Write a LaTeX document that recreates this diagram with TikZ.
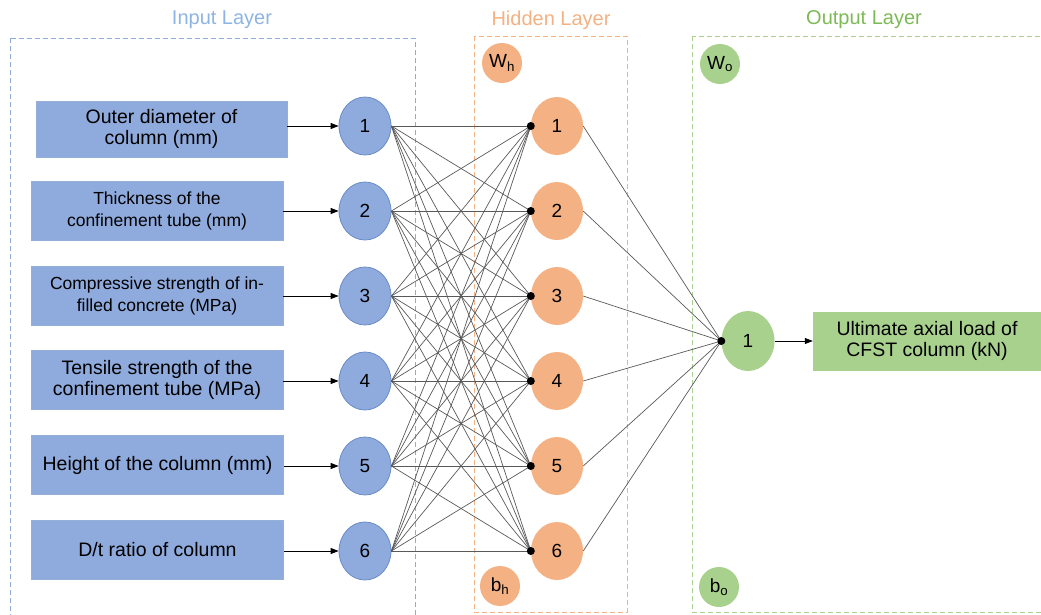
\documentclass[tikz,border=0pt]{standalone}
\usepackage{fontspec}
\setmainfont{Liberation Sans}
\usetikzlibrary{positioning, arrows.meta, shapes.geometric, calc}
\definecolor{annblue}{RGB}{143,170,220}
\definecolor{annblueline}{RGB}{105,140,200}
\definecolor{annbluetitle}{RGB}{142,180,227}
\definecolor{annorange}{RGB}{244,177,131}
\definecolor{anngreen}{RGB}{169,209,142}
\definecolor{anngreentitle}{RGB}{125,185,85}
\tikzset{
    inbox/.style={rectangle, draw=annblueline!70, fill=annblue, minimum width=252pt, minimum height=59pt, align=center, line width=0.8pt, inner sep=1pt},
    outbox/.style={rectangle, fill=anngreen, minimum width=228pt, minimum height=59pt, align=center, font=\fontsize{19.5}{21}\selectfont, inner sep=1pt},
    inneuron/.style={ellipse, draw=annblueline, fill=annblue, minimum width=52pt, minimum height=58pt, inner sep=0pt, font=\fontsize{19}{22}\selectfont, line width=0.8pt},
    hidneuron/.style={ellipse, fill=annorange, minimum width=52pt, minimum height=58pt, inner sep=0pt, font=\fontsize{19}{22}\selectfont},
    outneuron/.style={ellipse, fill=anngreen, minimum width=53pt, minimum height=60pt, inner sep=0pt, font=\fontsize{19}{22}\selectfont},
    biasnode/.style={circle, fill=#1, minimum size=40pt, inner sep=0pt, font=\fontsize{19}{22}\selectfont},
    layerbox/.style={draw=#1, dash pattern=on 5pt off 3pt, line width=0.8pt},
    layertitle/.style={font=\fontsize{20}{24}\selectfont, text=#1},
    bigtxt/.style={font=\fontsize{19.5}{21}\selectfont},
    smalltxt/.style={font=\fontsize{17.5}{22}\selectfont},
    wire/.style={color=black!65, line width=0.7pt},
    arr/.style={-{Triangle[length=8pt, width=6pt]}, line width=0.8pt, color=black}
}

\begin{document}
\begin{tikzpicture}[x=1pt, y=-1pt]
    \useasboundingbox (0,0) rectangle (1041,614);

    % Layer frames
    \draw[layerbox=annblue] (10,38) rectangle (415,640);
    \draw[layerbox=annorange] (474,36) rectangle (627,612);
    \draw[layerbox=anngreen] (692,36) rectangle (1070,612);
    \node[layertitle=annbluetitle] (tin) at (222,20) {Input Layer};
    \node[layertitle=annorange] (thid) at (551,20) {Hidden Layer};
    \node[layertitle=anngreentitle] (tout) at (864,20) {Output Layer};

    % Input variables
    \node[inbox, bigtxt, minimum width=251pt, minimum height=56pt] (box1) at (161.5,129) {Outer diameter of\\column (mm)};
    \node[inbox, smalltxt] (box2) at (157,211) {Thickness of the\\confinement tube (mm)};
    \node[inbox, smalltxt] (box3) at (157,296) {Compressive strength of in-\\filled concrete (MPa)};
    \node[inbox, bigtxt] (box4) at (157,380) {Tensile strength of the\\confinement tube (MPa)};
    \node[inbox, bigtxt] (box5) at (157.5,465) {Height of the column (mm)};
    \node[inbox, bigtxt] (box6) at (157.5,550) {D/t ratio of column};

    % Neurons
    \foreach \i in {1,...,6} \node[inneuron] (in\i) at (365,41+85*\i) {\i};
    \foreach \i in {1,...,6} \node[hidneuron] (hid\i) at (557,41+85*\i) {\i};
    \node[outneuron] (out1) at (748,341) {1};
    \node[outbox] (target) at (927,341) {Ultimate axial load of\\CFST column (kN)};

    % Weights and biases
    \node[biasnode=annorange] (wh) at (502,63) {W\textsubscript{h}};
    \node[biasnode=annorange] (bh) at (500,586) {b\textsubscript{h}};
    \node[biasnode=anngreen] (wo) at (720,64) {W\textsubscript{o}};
    \node[biasnode=anngreen] (bo) at (719,587) {b\textsubscript{o}};

    % Connections
    \foreach \i in {1,...,6} \draw[arr] (box\i.east |- in\i) -- (in\i);
    \foreach \i in {1,...,6} \foreach \j in {1,...,6} \draw[wire] (in\i.east) -- (hid\j.west);
    \foreach \j in {1,...,6} {
        \draw[wire] (hid\j.east) -- (out1.west);
        \fill (hid\j.west) circle (4);
    }
    \fill (out1.west) circle (4);
    \draw[arr] (out1) -- (target);
\end{tikzpicture}
\end{document}
